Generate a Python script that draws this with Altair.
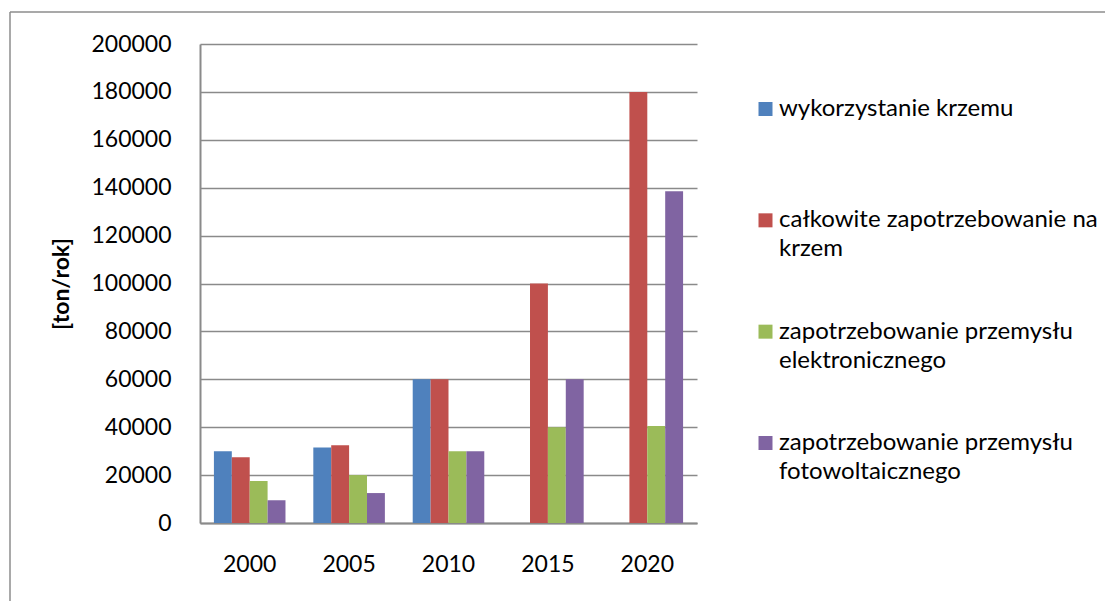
import altair as alt
import pandas as pd

years = ["2000", "2005", "2010", "2015", "2020"]
series = [
    "wykorzystanie krzemu",
    "całkowite zapotrzebowanie na krzem",
    "zapotrzebowanie przemysłu elektronicznego",
    "zapotrzebowanie przemysłu fotowoltaicznego",
]
wykorzystanie = [30000, 31500, 60000, None, None]
calkowite = [27500, 32500, 60000, 100000, 180000]
elektronika = [17500, 20000, 30000, 40000, 40500]
fotowoltaika = [9500, 12500, 30000, 60000, 138500]
colors = ["#4F81BD", "#C0504D", "#9BBB59", "#8064A2"]
y_ticks = [0, 20000, 40000, 60000, 80000, 100000, 120000, 140000, 160000, 180000, 200000]

rows = []
for name, vals in zip(series, [wykorzystanie, calkowite, elektronika, fotowoltaika]):
    for yr, v in zip(years, vals):
        if v is not None:
            rows.append({"rok": yr, "seria": name, "wartosc": v})
df = pd.DataFrame(rows)

legend_rows = []
for name in series:
    if len(name) > 22:
        i = name.rfind(" ")
        lines = [name[:i], name[i + 1:]]
    else:
        lines = [name]
    legend_rows.append({"seria": name, "tekst": lines})
legend_df = pd.DataFrame(legend_rows)

FONT = "Lato"
FS = 23
GRID = "#8a8a8a"
color_scale = alt.Scale(domain=series, range=colors)

bars = alt.Chart(df).mark_bar().encode(
    x=alt.X("rok:N", sort=years,
            scale=alt.Scale(paddingInner=0.28, paddingOuter=0.14),
            axis=alt.Axis(title=None, labelAngle=0, ticks=False, grid=False,
                          domainColor=GRID, domainWidth=2, labelPadding=30,
                          labelFont=FONT, labelFontSize=FS, labelColor="#000")),
    xOffset=alt.XOffset("seria:N", sort=series,
                        scale=alt.Scale(domain=series, paddingInner=0, paddingOuter=0)),
    y=alt.Y("wartosc:Q",
            scale=alt.Scale(domain=[0, 200000], nice=False),
            axis=alt.Axis(values=y_ticks, format="d", ticks=False,
                          domainColor=GRID, domainWidth=2,
                          gridColor=GRID, gridWidth=1.6,
                          labelPadding=29, labelFont=FONT, labelFontSize=FS, labelColor="#000",
                          title="[ton/rok]", titleFont=FONT, titleFontSize=FS,
                          titleFontWeight="bold", titleColor="#000",
                          titleAngle=270, titleX=-139, titleY=239.5,
                          titleAlign="center", titleBaseline="middle")),
    color=alt.Color("seria:N", scale=color_scale, legend=None),
)

leg_y = alt.Y("seria:N", sort=series, axis=None,
              scale=alt.Scale(type="point", domain=series, range=[65, 399], padding=0))

leg_sq = alt.Chart(legend_df).mark_square(size=196, opacity=1).encode(
    x=alt.value(565.5),
    y=leg_y,
    color=alt.Color("seria:N", scale=color_scale, legend=None),
)
leg_txt = alt.Chart(legend_df).mark_text(
    align="left", baseline="top", dy=-12, font=FONT, fontSize=24,
    lineHeight=29, color="#000"
).encode(
    x=alt.value(579),
    y=leg_y,
    text="tekst",
)

border = alt.Chart(alt.Data(values=[{}])).mark_rule(color="#8c8c8c", strokeWidth=1.5)
top_line = border.encode(x=alt.value(-190), x2=alt.value(905), y=alt.value(-32))
left_line = border.encode(x=alt.value(-190), y=alt.value(-32), y2=alt.value(557))

chart = alt.layer(bars, leg_sq, leg_txt, top_line, left_line).resolve_scale(
    y="independent"
).properties(
    width=497, height=479,
    background="white",
    autosize=alt.AutoSizeParams(type="none"),
    padding={"left": 200, "top": 44, "right": 408, "bottom": 78},
).configure_view(stroke=None)

chart.save("out.html", embed_options={"renderer": "svg", "actions": False})
